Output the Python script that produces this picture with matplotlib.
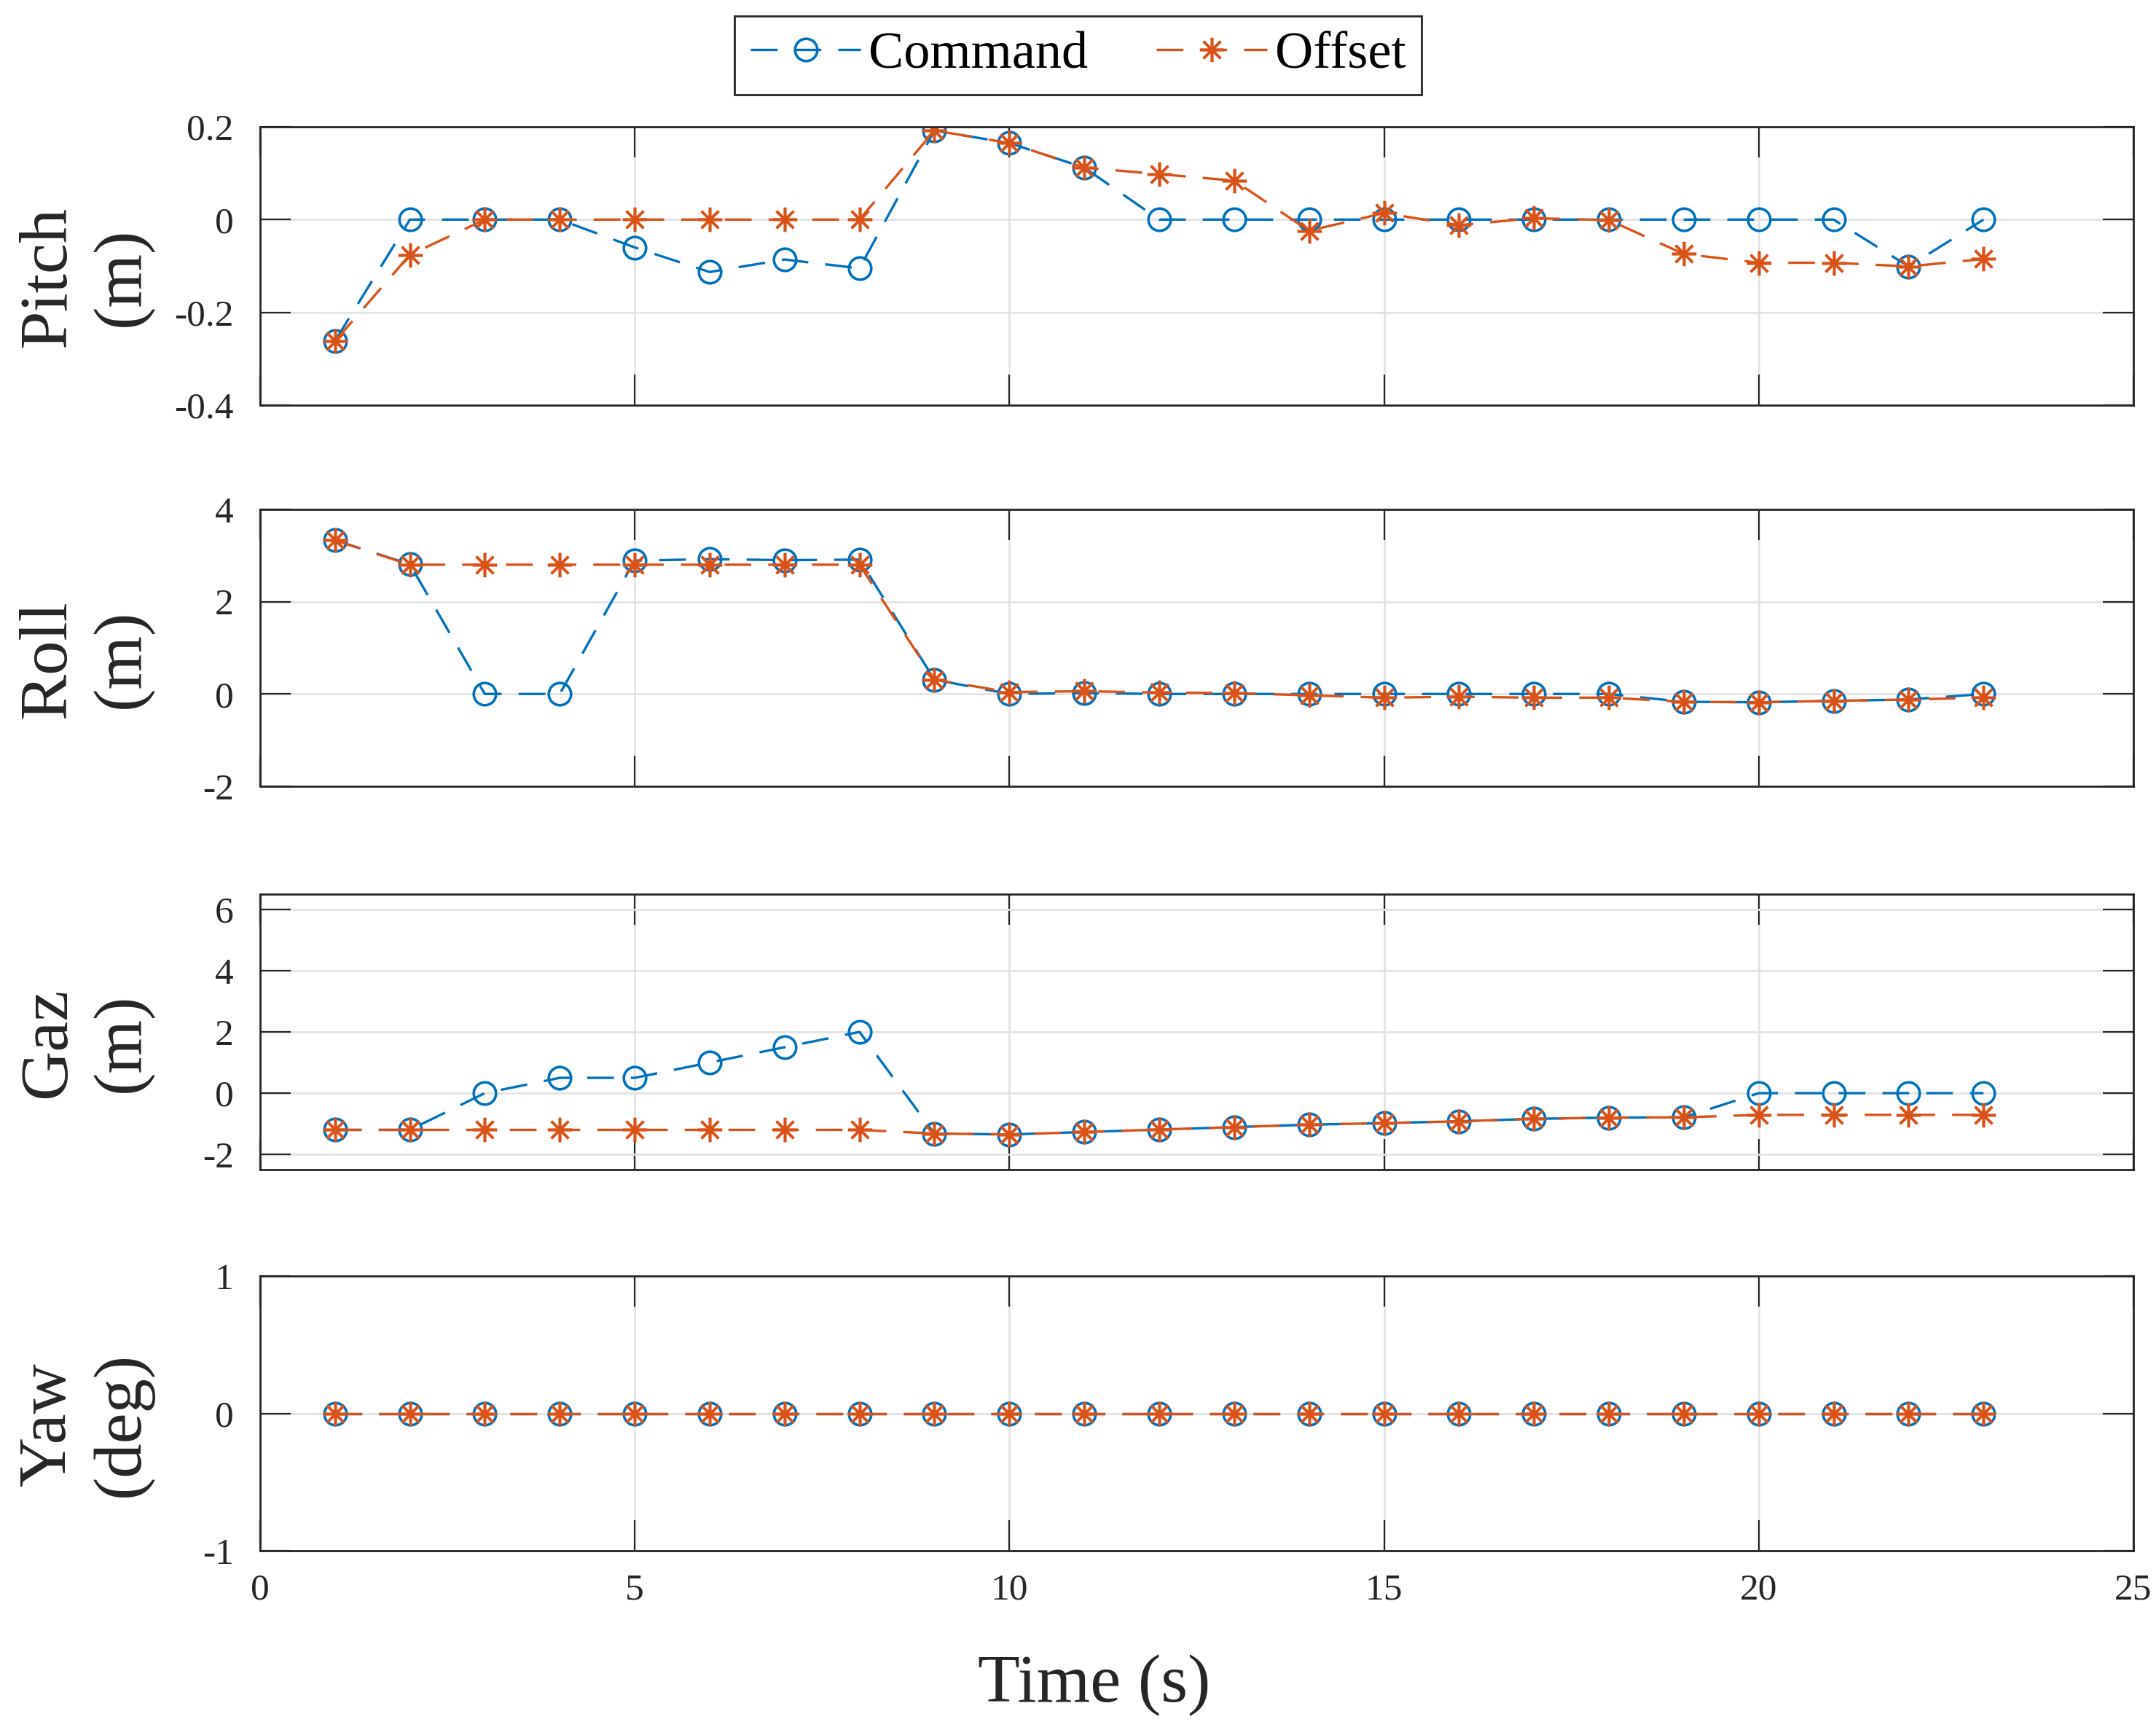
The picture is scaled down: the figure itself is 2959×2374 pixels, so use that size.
import matplotlib
matplotlib.use('Agg')
import matplotlib.pyplot as plt

plt.rcParams['font.family'] = ['Liberation Serif', 'DejaVu Serif']
plt.rcParams['axes.unicode_minus'] = False

# data
time = list(range(1, 24))

pitch_cmd = [-0.262, 0, 0, 0, -0.060, -0.113, -0.086, -0.105, 0.192, 0.165, 0.112,
             0, 0, 0, 0, 0, 0, 0, 0, 0, 0, -0.101, 0]
pitch_off = [-0.262, -0.076, 0, 0, 0, 0, 0, 0, 0.192, 0.165, 0.112,
             0.098, 0.084, -0.024, 0.014, -0.012, 0.003, -0.001, -0.074, -0.093, -0.093, -0.101, -0.085]

roll_cmd = [3.33, 2.81, 0, 0, 2.89, 2.92, 2.90, 2.91, 0.31, 0, 0.02,
            0, 0, 0, 0, 0, 0, 0, -0.17, -0.18, -0.15, -0.12, 0]
roll_off = [3.33, 2.80, 2.80, 2.80, 2.80, 2.80, 2.80, 2.80, 0.31, 0.04, 0.06,
            0.03, 0.02, -0.03, -0.08, -0.06, -0.08, -0.08, -0.17, -0.18, -0.15, -0.12, -0.08]

gaz_cmd = [-1.2, -1.2, 0, 0.5, 0.5, 1.0, 1.5, 2.0, -1.32, -1.35, -1.27,
           -1.19, -1.11, -1.03, -0.98, -0.92, -0.84, -0.80, -0.79, 0, 0, 0, 0]
gaz_off = [-1.2, -1.2, -1.2, -1.2, -1.2, -1.2, -1.2, -1.2, -1.32, -1.35, -1.27,
           -1.19, -1.11, -1.03, -0.98, -0.92, -0.84, -0.80, -0.79, -0.71, -0.71, -0.71, -0.71]

yaw_cmd = [0] * 23
yaw_off = [0] * 23

panels = [
    ('Pitch\n(m)', pitch_cmd, pitch_off, (-0.4, 0.2), [-0.4, -0.2, 0, 0.2], ['-0.4', '-0.2', '0', '0.2']),
    ('Roll\n(m)', roll_cmd, roll_off, (-2, 4), [-2, 0, 2, 4], ['-2', '0', '2', '4']),
    ('Gaz\n(m)', gaz_cmd, gaz_off, (-2.5, 6.5), [-2, 0, 2, 4, 6], ['-2', '0', '2', '4', '6']),
    ('Yaw\n(deg)', yaw_cmd, yaw_off, (-1, 1), [-1, 0, 1], ['-1', '0', '1']),
]

BLUE = '#0072BD'
ORANGE = '#D95319'
DARK = '#262626'
DASH = (0, (11, 7))

fig = plt.figure(figsize=(14.795, 11.87), dpi=200)

# axes boxes [left, bottom, width, height] in figure fractions
boxes = [
    [0.1206, 0.7658, 0.8689, 0.1609],
    [0.1206, 0.5455, 0.8689, 0.1601],
    [0.1206, 0.3239, 0.8689, 0.1592],
    [0.1206, 0.1036, 0.8689, 0.1588],
]

for i, (label, cmd, off, ylim, yticks, ylabels) in enumerate(panels):
    ax = fig.add_axes(boxes[i])
    l1, = ax.plot(time, cmd, linestyle=DASH, color=BLUE, lw=1.2,
                  marker='o', ms=11, mfc='none', mec=BLUE, mew=1.3, label='Command')
    l2, = ax.plot(time, off, linestyle=DASH, color=ORANGE, lw=1.2,
                  marker=(8, 2, 0), ms=12, mec=ORANGE, mew=1.3, label='Offset')
    ax.set_xlim(0, 25)
    ax.set_xticks([0, 5, 10, 15, 20, 25])
    ax.set_ylim(*ylim)
    ax.set_yticks(yticks)
    ax.set_yticklabels(ylabels)
    ax.grid(True, color='#e3e3e3', lw=1.0)
    ax.set_axisbelow(True)
    for sp in ax.spines.values():
        sp.set_linewidth(1.0)
        sp.set_color(DARK)
    ax.tick_params(direction='in', length=15, width=0.8, top=True, right=True,
                   colors=DARK, labelsize=18.5)
    ax.tick_params(axis='x', pad=11)
    ax.tick_params(axis='y', pad=13)
    if i < 3:
        ax.tick_params(axis='x', labelbottom=False)
    ax.set_ylabel(label, fontsize=34, color=DARK, linespacing=1.25)
    ax.yaxis.set_label_coords(-0.057, 0.46)

fig.text(0.5076, 0.0164, 'Time (s)', ha='center', va='baseline', fontsize=34, color=DARK)

leg = fig.legend([l1, l2], ['Command', 'Offset'], loc='center', bbox_to_anchor=(0.5, 0.968),
                 ncol=2, frameon=True, fancybox=False, edgecolor=DARK, framealpha=1,
                 fontsize=26, handlelength=2.1, handletextpad=0.15, columnspacing=1.3,
                 borderpad=0.3, numpoints=1)
leg.get_frame().set_linewidth(1.0)

fig.savefig('out.png', dpi=200)
